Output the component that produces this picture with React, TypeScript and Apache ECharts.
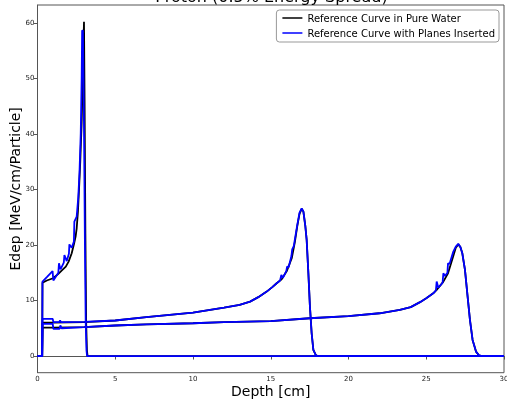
import React, { useEffect, useRef } from "react";
import * as echarts from "echarts";

const TITLE = "Proton (0.5% Energy Spread)";
const X_NAME = "Depth [cm]";
const Y_NAME = "Edep [MeV/cm/Particle]";
const NAME_WATER = "Reference Curve in Pure Water";
const NAME_PLANES = "Reference Curve with Planes Inserted";
const Y_TICKS = [0, 10, 20, 30, 40, 50, 60];

// Pure water curves (black)
const water1: number[][] = [
  [0, 0], [0.3, 0], [0.32, 13.2], [0.6, 13.6], [1.0, 14.0], [1.34, 14.8], [1.6, 15.5],
  [1.82, 16.1], [2.0, 17.0], [2.2, 18.5], [2.35, 20.2], [2.45, 21.5], [2.52, 23],
  [2.6, 26], [2.67, 30], [2.75, 35], [2.84, 42], [2.9, 49], [2.95, 55.5], [2.99, 60.2],
  [3.03, 45], [3.08, 22], [3.13, 6], [3.18, 1], [3.22, 0], [30, 0],
];
const water2: number[][] = [
  [0, 0], [0.3, 0], [0.32, 6.0], [1.0, 6.0], [2, 6.05], [3, 6.1], [5, 6.4], [7, 7.0],
  [10, 7.8], [12, 8.7], [13, 9.2], [13.67, 9.8], [14.2, 10.6], [14.74, 11.6], [15.1, 12.4],
  [15.38, 13.1], [15.7, 13.8], [16.03, 15.3], [16.35, 17.6], [16.55, 20.5], [16.7, 23.3],
  [16.85, 25.6], [16.99, 26.5], [17.1, 26.0], [17.22, 23.5], [17.31, 20.9], [17.42, 14.9],
  [17.52, 8.9], [17.63, 4.1], [17.74, 1.1], [17.89, 0.2], [18.0, 0], [30, 0],
];
const water3: number[][] = [
  [0, 0], [0.3, 0], [0.32, 5.1], [1, 5.1], [3, 5.2], [5, 5.5], [7, 5.7], [10, 5.9],
  [12, 6.1], [15, 6.3], [17.5, 6.8], [20, 7.2], [22, 7.7], [23.3, 8.3], [24, 8.8],
  [24.6, 9.7], [25.0, 10.4], [25.45, 11.3], [25.67, 11.9], [26.1, 13.4], [26.4, 14.9],
  [26.74, 18.0], [26.9, 19.5], [27.06, 20.1], [27.2, 19.6], [27.32, 18.5], [27.49, 15.5],
  [27.66, 10.7], [27.81, 6.5], [27.98, 2.9], [28.2, 0.8], [28.4, 0.1], [28.6, 0], [30, 0],
];

// Curves with planes inserted (blue)
const planes1: number[][] = [
  [0, 0], [0.3, 0], [0.32, 13.4], [0.6, 14.2], [0.97, 15.3], [1.02, 13.6], [1.34, 15.0],
  [1.38, 16.7], [1.48, 15.6], [1.69, 16.8], [1.73, 18.2], [1.88, 17.1], [2.02, 18.4],
  [2.05, 20.1], [2.2, 19.5], [2.34, 20.6], [2.37, 24.2], [2.52, 25.1], [2.62, 28.5],
  [2.7, 33], [2.78, 40], [2.84, 50], [2.87, 58.6], [2.92, 58.6], [2.96, 50], [3.0, 38],
  [3.05, 20], [3.1, 6], [3.15, 1], [3.19, 0], [30, 0],
];
const planes2: number[][] = [
  [0, 0], [0.3, 0], [0.32, 6.7], [0.98, 6.7], [1.02, 6.1], [1.4, 6.1], [1.45, 6.4],
  [1.52, 6.1], [3, 6.15], [5, 6.4], [7, 7.0], [10, 7.8], [12, 8.7], [13, 9.2],
  [13.67, 9.8], [14.2, 10.6], [14.74, 11.6], [15.1, 12.4], [15.38, 13.1], [15.6, 13.6],
  [15.68, 14.6], [15.78, 14.1], [16.0, 15.3], [16.05, 16.1], [16.15, 16.0], [16.33, 18.0],
  [16.38, 19.2], [16.48, 19.8], [16.7, 23.5], [16.85, 25.8], [16.99, 26.6], [17.1, 26.0],
  [17.22, 23.5], [17.31, 20.9], [17.42, 14.9], [17.52, 8.9], [17.63, 4.1], [17.74, 1.1],
  [17.89, 0.2], [18.0, 0], [30, 0],
];
const planes3: number[][] = [
  [0, 0], [0.3, 0], [0.32, 5.8], [0.98, 5.8], [1.02, 4.9], [1.42, 4.9], [1.47, 5.5],
  [1.55, 5.0], [3, 5.2], [5, 5.5], [7, 5.7], [10, 5.9], [12, 6.1], [15, 6.3], [17.5, 6.8],
  [20, 7.2], [22, 7.7], [23.3, 8.3], [24, 8.8], [24.6, 9.7], [25.0, 10.4], [25.45, 11.3],
  [25.62, 11.8], [25.67, 13.4], [25.78, 12.3], [26.05, 13.2], [26.1, 14.9], [26.2, 14.4],
  [26.36, 15.0], [26.4, 16.7], [26.5, 16.6], [26.74, 18.8], [26.9, 19.7], [27.06, 20.2],
  [27.2, 19.6], [27.32, 18.5], [27.49, 15.5], [27.66, 10.7], [27.81, 6.5], [27.98, 2.9],
  [28.2, 0.8], [28.4, 0.1], [28.6, 0], [30, 0],
];

const FONT = "DejaVu Sans";

export default function App() {
  const ref = useRef<HTMLDivElement>(null);
  useEffect(() => {
    if (!ref.current) return;
    const chart = echarts.init(ref.current, undefined, { renderer: "svg" });
    const mk = (name: string, data: number[][], color: string) => ({
      name,
      type: "line",
      data,
      symbol: "none",
      showSymbol: false,
      lineStyle: { color, width: 1.8 },
      itemStyle: { color },
      clip: true,
    });
    chart.setOption({
      animation: false,
      textStyle: { fontFamily: FONT },
      graphic: [
        {
          type: "text",
          x: 271.5,
          y: 4,
          style: {
            text: TITLE,
            font: `16px "${FONT}"`,
            fill: "#000",
            textAlign: "center",
            textVerticalAlign: "bottom",
          },
        },
      ],
      legend: {
        data: [NAME_WATER, NAME_PLANES],
        orient: "vertical",
        right: 8,
        top: 10,
        icon: "rect",
        itemWidth: 20,
        itemHeight: 1.5,
        itemGap: 3,
        padding: [2, 4, 3, 6],
        borderColor: "#999",
        borderWidth: 1,
        borderRadius: 3,
        backgroundColor: "#fff",
        textStyle: { fontSize: 10, fontFamily: FONT, color: "#000", lineHeight: 12 },
      },
      grid: {
        left: 37.5,
        right: 3,
        top: 5,
        bottom: 26.3,
        show: true,
        borderColor: "#555",
        borderWidth: 1,
        containLabel: false,
        outerBoundsMode: "none",
      },
      xAxis: {
        type: "value",
        min: 0,
        max: 30,
        interval: 5,
        name: X_NAME,
        nameLocation: "middle",
        nameGap: 11,
        nameMoveOverlap: false,
        nameTextStyle: { fontSize: 14, fontFamily: FONT, color: "#000" },
        axisLine: { show: true, lineStyle: { color: "#555", width: 1 } },
        axisTick: { show: true, length: 3.5, lineStyle: { color: "#555" } },
        axisLabel: { fontSize: 7, margin: 2.5, color: "#222", fontFamily: FONT },
        splitLine: { show: false },
      },
      yAxis: {
        type: "value",
        min: -3,
        max: 63.2,
        name: Y_NAME,
        nameLocation: "middle",
        nameGap: 16,
        nameMoveOverlap: false,
        nameTextStyle: { fontSize: 14, fontFamily: FONT, color: "#000" },
        axisLine: { show: true, lineStyle: { color: "#555", width: 1 } },
        axisTick: { show: true, length: 3.5, customValues: Y_TICKS, lineStyle: { color: "#555" } },
        axisLabel: { fontSize: 7, margin: 3, color: "#222", fontFamily: FONT, customValues: Y_TICKS },
        splitLine: { show: false },
      },
      series: [
        mk(NAME_WATER, water1, "#000000"),
        mk(NAME_WATER, water2, "#000000"),
        mk(NAME_WATER, water3, "#000000"),
        mk(NAME_PLANES, planes1, "#0000ff"),
        mk(NAME_PLANES, planes2, "#0000ff"),
        mk(NAME_PLANES, planes3, "#0000ff"),
      ],
    });
    return () => chart.dispose();
  }, []);
  return <div ref={ref} style={{ width: 507, height: 399, position: "fixed", left: 0, top: 0 }} />;
}
